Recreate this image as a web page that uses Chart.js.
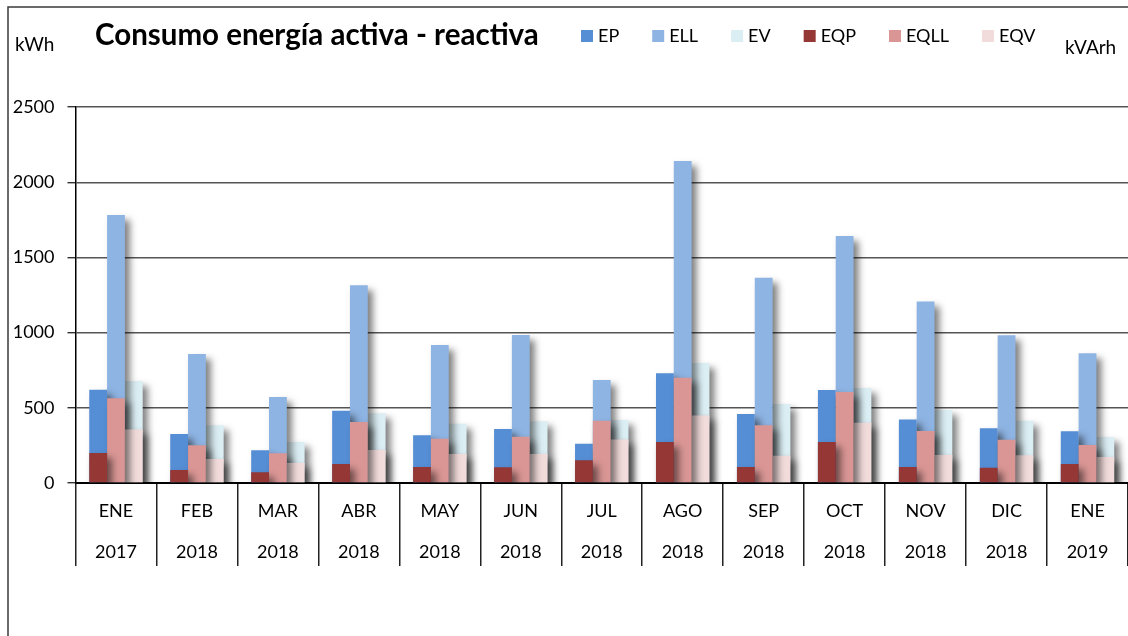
<!DOCTYPE html>
<html>
<head>
<meta charset="utf-8">
<script src="https://cdn.jsdelivr.net/npm/chart.js@4.4.1/dist/chart.umd.min.js"></script>
<style>
  body { margin: 0; background: #fff; }
  canvas { display: block; }
</style>
</head>
<body>
<canvas id="chart" width="1128" height="636"></canvas>
<script>
// months and years (two-level category axis)
const months = ["ENE", "FEB", "MAR", "ABR", "MAY", "JUN", "JUL", "AGO", "SEP", "OCT", "NOV", "DIC", "ENE"];
const years = ["2017", "2018", "2018", "2018", "2018", "2018", "2018", "2018", "2018", "2018", "2018", "2018", "2019"];

// active energy, kWh
const ep = [620, 326, 217, 481, 317, 359, 261, 729, 459, 618, 423, 364, 344];
const ell = [1782, 858, 572, 1315, 918, 984, 685, 2141, 1365, 1643, 1206, 982, 862];
const ev = [678, 384, 273, 463, 394, 410, 419, 798, 525, 632, 485, 414, 306];

// reactive energy, kVArh
const eqp = [200, 86, 71, 126, 106, 104, 151, 273, 106, 273, 106, 102, 126];
const eqll = [563, 251, 197, 406, 295, 308, 414, 700, 384, 605, 346, 288, 253];
const eqv = [355, 160, 133, 219, 193, 193, 290, 448, 182, 401, 186, 184, 173];

const yTicks = [0, 500, 1000, 1500, 2000, 2500];

Chart.defaults.font.family = "Lato";
Chart.defaults.color = "#000";

const labels = months.map((m, i) => [m, years[i]]);

// soft drop shadow behind the bars, like the spreadsheet
const barShadow = {
  id: "barShadow",
  beforeDatasetDraw(chart) {
    const ctx = chart.ctx;
    ctx.save();
    ctx.shadowColor = "rgba(0,0,0,0.5)";
    ctx.shadowBlur = 7;
    ctx.shadowOffsetX = 5;
    ctx.shadowOffsetY = 5;
  },
  afterDatasetDraw(chart) {
    chart.ctx.restore();
  }
};

// frame, title, units and legend
const decorations = {
  id: "decorations",
  beforeDraw(chart) {
    const ctx = chart.ctx;
    ctx.save();
    ctx.fillStyle = "#fff";
    ctx.fillRect(0, 0, chart.width, chart.height);
    ctx.strokeStyle = "#3a3a3a";
    ctx.lineWidth = 1.5;
    ctx.beginPath();
    ctx.moveTo(8, chart.height);
    ctx.lineTo(8, 7);
    ctx.lineTo(chart.width, 7);
    ctx.stroke();
    ctx.restore();
  },
  afterDraw(chart) {
    const ctx = chart.ctx;
    ctx.save();
    ctx.fillStyle = "#000";
    ctx.textBaseline = "middle";

    ctx.font = "bold 29.5px Lato";
    ctx.fillText("Consumo energía activa - reactiva", 95, 35);

    ctx.font = "19px Lato";
    ctx.fillText("kWh", 15, 45);
    ctx.fillText("kVArh", 1065, 48);

    ctx.font = "18px Lato";
    const items = chart.data.datasets.slice().sort((a, b) => a.legendIndex - b.legendIndex);
    let x = 581;
    items.forEach(ds => {
      ctx.fillStyle = ds.backgroundColor;
      ctx.fillRect(x, 30, 12, 12);
      ctx.fillStyle = "#000";
      ctx.fillText(ds.label, x + 17, 36);
      x += 17 + ctx.measureText(ds.label).width + 33;
    });
    ctx.restore();
  }
};

new Chart(document.getElementById("chart"), {
  type: "bar",
  data: {
    labels: labels,
    datasets: [
      // reactive series first so they are drawn in front of the active ones
      { label: "EQP", data: eqp, backgroundColor: "#953735", stack: "p", legendIndex: 3 },
      { label: "EQLL", data: eqll, backgroundColor: "#D99694", stack: "ll", legendIndex: 4 },
      { label: "EQV", data: eqv, backgroundColor: "#F2DCDB", stack: "v", legendIndex: 5 },
      { label: "EP", data: ep, backgroundColor: "#558ED5", stack: "p", legendIndex: 0 },
      { label: "ELL", data: ell, backgroundColor: "#8EB4E3", stack: "ll", legendIndex: 1 },
      { label: "EV", data: ev, backgroundColor: "#DBEEF4", stack: "v", legendIndex: 2 }
    ]
  },
  options: {
    responsive: false,
    animation: false,
    layout: { padding: { top: 107, left: 0, right: -3, bottom: 0 } },
    datasets: {
      bar: { barPercentage: 1, categoryPercentage: 0.66, borderWidth: 0 }
    },
    plugins: {
      legend: { display: false },
      tooltip: { enabled: false }
    },
    scales: {
      x: {
        type: "category",
        offset: true,
        border: { color: "#000", width: 2 },
        grid: {
          offset: true,
          drawOnChartArea: false,
          drawTicks: true,
          tickLength: 83,
          tickColor: "#222",
          lineWidth: 1.5
        },
        ticks: {
          autoSkip: false,
          maxRotation: 0,
          padding: -75,
          font: { size: 18, lineHeight: 41 / 18 }
        },
        afterFit(scale) { scale.height = 153; }
      },
      y: {
        min: 0,
        max: 2500,
        stacked: false,
        border: { color: "#000", width: 1.5 },
        grid: {
          color: "#555",
          lineWidth: 1.4,
          tickLength: 8,
          tickColor: "#333"
        },
        ticks: {
          padding: 13,
          font: { size: 18 },
          callback: v => String(v)
        },
        afterBuildTicks(scale) { scale.ticks = yTicks.map(v => ({ value: v })); },
        afterFit(scale) { scale.width = 75.5; }
      }
    }
  },
  plugins: [barShadow, decorations]
});
</script>
</body>
</html>
